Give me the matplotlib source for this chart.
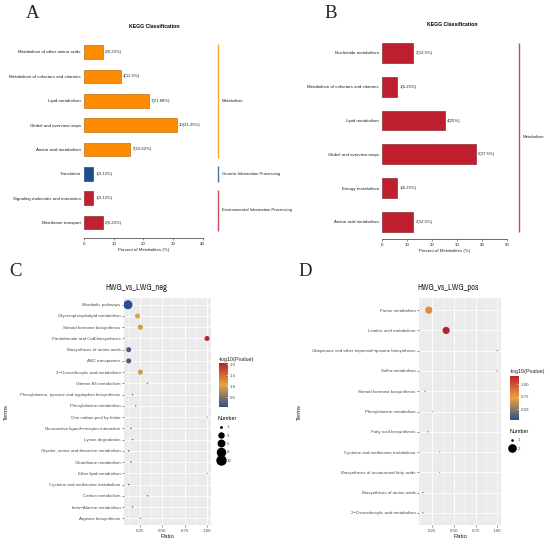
import numpy as np
import matplotlib
matplotlib.use('Agg')
import matplotlib.pyplot as plt
from matplotlib import font_manager
from matplotlib.colors import LinearSegmentedColormap, Normalize
from matplotlib.lines import Line2D
import matplotlib.transforms as mtransforms

# ---------------- data ----------------
a_terms = ['Metabolism of other amino acids', 'Metabolism of cofactors and vitamins',
           'Lipid metabolism', 'Global and overview maps', 'Amino acid metabolism',
           'Translation', 'Signaling molecules and interaction', 'Membrane transport']
a_counts = [2, 4, 7, 10, 5, 1, 1, 2]
a_pcts = [6.25, 12.5, 21.88, 31.25, 15.62, 3.12, 3.12, 6.25]
a_groups = ['Metabolism'] * 5 + ['Genetic Information Processing'] + \
           ['Environmental Information Processing'] * 2

b_terms = ['Nucleotide metabolism', 'Metabolism of cofactors and vitamins', 'Lipid metabolism',
           'Global and overview maps', 'Energy metabolism', 'Amino acid metabolism']
b_counts = [2, 1, 4, 6, 1, 2]
b_pcts = [12.5, 6.25, 25, 37.5, 6.25, 12.5]
b_groups = ['Metabolism'] * 6

M = '\u2212'
c_terms = ['Metabolic pathways', 'Glycerophospholipid metabolism', 'Steroid hormone biosynthesis',
           'Pantothenate and CoA biosynthesis', 'Biosynthesis of amino acids', 'ABC transporters',
           '2' + M + 'Oxocarboxylic acid metabolism', 'Vitamin B6 metabolism',
           'Phenylalanine, tyrosine and tryptophan biosynthesis', 'Phenylalanine metabolism',
           'One carbon pool by folate', 'Neuroactive ligand' + M + 'receptor interaction',
           'Lysine degradation', 'Glycine, serine and threonine metabolism',
           'Glutathione metabolism', 'Ether lipid metabolism',
           'Cysteine and methionine metabolism', 'Carbon metabolism',
           'beta' + M + 'Alanine metabolism', 'Arginine biosynthesis']
c_ratio = [0.117, 0.224, 0.256, 1.0, 0.125, 0.125, 0.256, 0.335, 0.168, 0.203,
           1.0, 0.15, 0.168, 0.125, 0.15, 1.0, 0.125, 0.335, 0.168, 0.256]
c_number = [10, 3, 3, 3, 3, 3, 3, 1, 1, 1, 1, 1, 1, 1, 1, 1, 1, 1, 1, 1]
c_logp = [0.06, 1.1, 0.95, 2.06, 0.22, 0.22, 0.95, 0.6, 0.4, 0.45,
          1.0, 0.4, 0.45, 0.3, 0.4, 1.0, 0.3, 0.55, 0.45, 0.6]
c_size_breaks = [1, 3, 5, 8, 10]
c_cbar_ticks = [0.5, 1.0, 1.5, 2.0]

d_terms = ['Purine metabolism', 'Linoleic acid metabolism',
           'Ubiquinone and other terpenoid' + M + 'quinone biosynthesis', 'Sulfur metabolism',
           'Steroid hormone biosynthesis', 'Phenylalanine metabolism', 'Fatty acid biosynthesis',
           'Cysteine and methionine metabolism', 'Biosynthesis of unsaturated fatty acids',
           'Biosynthesis of amino acids', '2' + M + 'Oxocarboxylic acid metabolism']
d_ratio = [0.21, 0.41, 1.0, 1.0, 0.167, 0.25, 0.2, 0.333, 0.333, 0.14, 0.14]
d_number = [2, 2, 1, 1, 1, 1, 1, 1, 1, 1, 1]
d_logp = [0.8, 1.17, 1.1, 1.1, 0.32, 0.5, 0.42, 0.62, 0.62, 0.28, 0.28]
d_size_breaks = [1, 2]
d_cbar_ticks = [0.5, 0.75, 1.0]

# ---------------- fonts ----------------
W, H = 550, 545
fig = plt.figure(figsize=(5.5, 5.45), dpi=100)
SANS = ['Liberation Sans', 'DejaVu Sans']
SERIF = ['Liberation Serif', 'DejaVu Serif']
plt.rcParams['font.family'] = SANS

_fonts = font_manager.fontManager.ttflist
_narrow = sorted({f.name for f in _fonts if 'Narrow' in f.name})
_cond = [f for f in _fonts if f.name == 'DejaVu Sans' and 'condensed' in str(f.stretch)]
if _narrow:
    TITLE_KW = dict(family=[_narrow[0], 'DejaVu Sans'], fontsize=6.0)
elif _cond:
    TITLE_KW = dict(family=['DejaVu Sans'], fontstretch='condensed', fontsize=5.6)
else:
    TITLE_KW = dict(family=SANS, fontsize=5.0)


def px_axes(l, t, r, b):
    return fig.add_axes([l / W, 1 - b / H, (r - l) / W, (b - t) / H])


def ftext(x, y, s, **kw):
    return fig.text(x / W, 1 - y / H, s, **kw)


def bar_panel(ax, terms, counts, pcts, groups, palette, edge, xmax, ylim,
              line_x, line_half, text_x, bar_h):
    y = np.arange(len(terms))
    ax.barh(y, pcts, height=bar_h, color=[palette[g] for g in groups],
            edgecolor=[edge[g] for g in groups], linewidth=0.4)
    for yi, n, p in zip(y, counts, pcts):
        ax.annotate(f"{n}({p:g}%)", (p, yi), xytext=(1.6, 0), textcoords='offset points',
                    ha='left', va='center', fontsize=3.1, color='#222222')
    ax.set_yticks(y, terms)
    ax.set_ylim(*ylim)
    ax.set_xlim(0, xmax)
    ax.set_xticks(np.arange(0, xmax + 1, 10))
    for s in ['left', 'top', 'right']:
        ax.spines[s].set_visible(False)
    ax.spines['bottom'].set_linewidth(0.5)
    ax.spines['bottom'].set_color('#333333')
    ax.tick_params(axis='y', length=0, pad=2.2, labelsize=3.2, labelcolor='#222222')
    ax.tick_params(axis='x', length=1.6, width=0.4, pad=1.5, labelsize=3.2,
                   color='#333333', labelcolor='#222222')
    ax.set_xlabel('Percent of Metabolites (%)', fontsize=3.2, labelpad=1.2, color='#222222')
    trans = mtransforms.blended_transform_factory(ax.transAxes, ax.transData)
    seen = []
    for g in groups:
        if g not in seen:
            seen.append(g)
    for g in seen:
        idx = [i for i, gg in enumerate(groups) if gg == g]
        ax.plot([line_x, line_x], [min(idx) - line_half, max(idx) + line_half],
                transform=trans, clip_on=False, color=palette[g], alpha=0.8, lw=1.0,
                solid_capstyle='butt')
        ax.text(text_x, (min(idx) + max(idx)) / 2, g, transform=trans, ha='left',
                va='center', fontsize=3.1, color='#222222')


# Panel A
axA = px_axes(84, 40, 202.7, 238)
palA = {'Metabolism': '#FF8C00', 'Genetic Information Processing': '#1F4E8C',
        'Environmental Information Processing': '#C0202F'}
edgeA = {'Metabolism': '#A85C00', 'Genetic Information Processing': '#10305A',
         'Environmental Information Processing': '#7A1420'}
bar_panel(axA, a_terms, a_counts, a_pcts, a_groups, palA, edgeA, 40, (7.63, -0.49),
          (218 - 84) / 118.7, 0.34, (222 - 84) / 118.7, 0.56)

# Panel B
axB = px_axes(381.7, 40, 507.3, 239)
palB = {'Metabolism': '#BE1E2D'}
edgeB = {'Metabolism': '#7A1420'}
bar_panel(axB, b_terms, b_counts, b_pcts, b_groups, palB, edgeB, 50, (5.51, -0.385),
          (519 - 381.7) / 125.6, 0.3, (522.5 - 381.7) / 125.6, 0.58)

ftext(154, 26, 'KEGG Classification', fontsize=3.7, fontweight='bold', ha='center', va='center')
ftext(452, 25, 'KEGG Classification', fontsize=3.7, fontweight='bold', ha='center', va='center')

# ---------------- bubble panels ----------------
cmap = LinearSegmentedColormap.from_list('pv', ['#2B4F8E', '#E9A43C', '#BB1F2D'])


def size_px(v, vmin, vmax, k):
    return k * (1 + 5 * np.sqrt((np.asarray(v, float) - vmin) / (vmax - vmin)))


def bubble_panel(ax, terms, ratio, number, logp, k, size_breaks, cbar_ticks,
                 cax, cbar_title_xy, leg_xy, ylab_x):
    n = len(terms)
    y = np.arange(n)
    vmin, vmax = min(number), max(number)
    d = size_px(number, vmin, vmax, k)
    norm = Normalize(min(logp), max(logp))
    ax.set_facecolor('#EBEBEB')
    ax.set_axisbelow(True)
    sc = ax.scatter(ratio, y, s=(d * 0.72) ** 2, c=logp, cmap=cmap, norm=norm,
                    linewidths=0, zorder=3)
    lo, hi = min(ratio), max(ratio)
    ex = 0.05 * (hi - lo)
    ax.set_xlim(lo - ex, hi + ex)
    ax.set_ylim(n - 1 + 0.6, -0.6)
    ax.set_xticks([0.25, 0.5, 0.75, 1.0], ['0.25', '0.50', '0.75', '1.00'])
    ax.set_xticks([0.125, 0.375, 0.625, 0.875], minor=True)
    ax.set_yticks(y, terms)
    ax.grid(True, which='major', color='white', lw=0.6)
    ax.grid(True, which='minor', axis='x', color='white', lw=0.3)
    for s in ax.spines.values():
        s.set_visible(False)
    ax.tick_params(which='major', length=1.6, width=0.4, color='#333333', pad=1,
                   labelsize=3.2, labelcolor='#4D4D4D')
    ax.tick_params(which='minor', length=0)
    ax.set_xlabel('Ratio', fontsize=4.2, labelpad=1, color='#222222')
    ax.set_ylabel('Terms', fontsize=4.2, color='#222222')
    ax.yaxis.set_label_coords(ylab_x, 0.5)
    cb = fig.colorbar(sc, cax=cax, ticks=cbar_ticks)
    cb.outline.set_visible(False)
    cb.ax.tick_params(length=1.5, width=0.4, color='white', direction='in', pad=1.2,
                      labelsize=3.2, labelcolor='#4D4D4D')
    ftext(cbar_title_xy[0], cbar_title_xy[1], '-log10(Pvalue)', fontsize=3.9,
          ha='left', va='center', color='#222222')
    bd = size_px(size_breaks, vmin, vmax, k)
    handles = [Line2D([], [], ls='', marker='o', color='black', markersize=dd * 0.72)
               for dd in bd]
    leg = ax.legend(handles, [str(b) for b in size_breaks], title='Number',
                    loc='upper left', bbox_to_anchor=(leg_xy[0] / W, 1 - leg_xy[1] / H),
                    bbox_transform=fig.transFigure, frameon=False, fontsize=3.2,
                    title_fontsize=3.9, borderpad=0, labelspacing=0.95, handlelength=1.2,
                    handletextpad=0.8, borderaxespad=0)
    leg._legend_box.align = 'left'
    for t in leg.get_texts():
        t.set_color('#4D4D4D')


axC = px_axes(124, 298, 211, 525)
caxC = px_axes(219, 363, 228, 407)
bubble_panel(axC, c_terms, c_ratio, c_number, c_logp, 1.5, c_size_breaks, c_cbar_ticks,
             caxC, (218.5, 359), (218, 416), (9 - 124) / 87)

axD = px_axes(419, 298, 501, 525)
caxD = px_axes(510, 376, 519, 420)
bubble_panel(axD, d_terms, d_ratio, d_number, d_logp, 1.2, d_size_breaks, d_cbar_ticks,
             caxD, (509.5, 372), (509, 429), (302 - 419) / 82)

ftext(136, 288, 'HWG_vs_LWG_neg', ha='center', va='center', color='#222222', **TITLE_KW)
ftext(448, 288, 'HWG_vs_LWG_pos', ha='center', va='center', color='#222222', **TITLE_KW)

# panel letters
for x, y, s in [(33, 13, 'A'), (331, 13, 'B'), (15, 272, 'C'), (305.5, 271, 'D')]:
    ftext(x, y, s, fontsize=13.5, family=SERIF, ha='center', va='center', color='#222222')

fig.savefig('out.png', dpi=100)
